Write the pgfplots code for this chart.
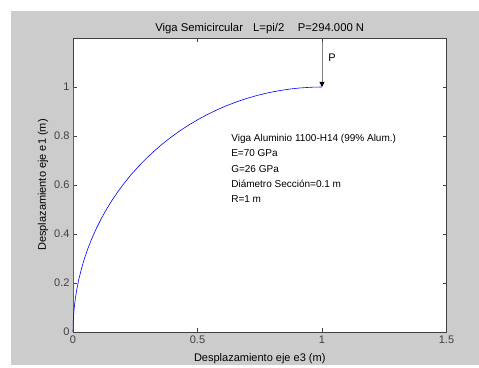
\documentclass[border=0pt]{standalone}
\usepackage{pgfplots}
\pgfplotsset{compat=1.18}
\usepackage{fontspec}
\setmainfont{Liberation Sans}
\usetikzlibrary{arrows.meta}
\definecolor{figgrey}{RGB}{204,204,204}
\definecolor{axgrey}{RGB}{64,64,64}
\begin{document}
\begin{tikzpicture}
\fill[white] (-73pt,-33pt) rectangle (406pt,332pt);
\fill[figgrey] (-62pt,-33pt) rectangle (406pt,321pt);
\begin{axis}[
  scale only axis,
  at={(0pt,0pt)}, anchor=origin,
  width=373.5pt, height=294pt,
  xmin=0, xmax=1.5, ymin=0, ymax=1.2,
  xtick={0,0.5,1,1.5}, xticklabels={0,0.5,1,1.5},
  ytick={0,0.2,0.4,0.6,0.8,1}, yticklabels={0,0.2,0.4,0.6,0.8,1},
  tick align=inside,
  major tick length=4pt,
  axis background/.style={fill=white},
  axis line style={axgrey, line width=0.8pt},
  every tick/.style={axgrey, line width=0.6pt},
  tick label style={font=\fontsize{11}{13}\selectfont, text=axgrey},
  xticklabel style={yshift=-0.5pt},
  label style={font=\fontsize{11}{13}\selectfont},
  xlabel={Desplazamiento eje e3 (m)},
  ylabel={Desplazamiento eje e1 (m)},
  xlabel style={at={(axis description cs:0.5,-0.092)}, anchor=center},
  ylabel style={at={(axis description cs:-0.0803,0.5)}, anchor=center},
  title={Viga Semicircular\hspace{0.9em}L=pi/2\hspace{1.2em}P=294.000 N},
  title style={font=\fontsize{11.3}{13}\selectfont, at={(axis description cs:0.5,1.0442)}, anchor=center, yshift=-10pt},
  clip=false,
]
\addplot[blue!70, line width=0.8pt] coordinates {(0,0) (0,1)};
\addplot[blue, line width=0.6pt] coordinates {
(0,0) (0.000952,0.043619) (0.00381,0.08716) (0.008555,0.130526) (0.01519,0.17365)
(0.023704,0.21644) (0.03407,0.25882) (0.046283,0.300706) (0.06031,0.34202)
(0.07612,0.382683) (0.09369,0.42262) (0.112989,0.461749) (0.13397,0.5)
(0.156609,0.5373) (0.18085,0.57358) (0.206647,0.608761) (0.23396,0.64279)
(0.262723,0.67559) (0.29289,0.70711) (0.32441,0.737277) (0.35721,0.76604)
(0.391239,0.793353) (0.42642,0.81915) (0.4627,0.843391) (0.5,0.86603)
(0.538251,0.887011) (0.57738,0.90631) (0.617317,0.92388) (0.65798,0.93969)
(0.699294,0.953717) (0.74118,0.96593) (0.78356,0.976296) (0.82635,0.98481)
(0.869474,0.991445) (0.91284,0.99619) (0.956381,0.999048) (1,1)
};
\draw[gray, line width=0.8pt, -{Triangle[color=black, length=5pt, width=5pt]}] (axis cs:1,1.183) -- (axis cs:1,1);
\node[anchor=west, inner sep=0pt, font=\fontsize{11}{13}\selectfont] at (axis cs:1.025,1.118) {P};
\node[anchor=north west, align=left, inner sep=0pt, font=\fontsize{10}{15.2}\selectfont] at (axis cs:0.635,0.807) {Viga Aluminio 1100-H14 (99\% Alum.)\\E=70 GPa\\G=26 GPa\\Diámetro Sección=0.1 m\\R=1 m};
\end{axis}
\end{tikzpicture}
\end{document}
